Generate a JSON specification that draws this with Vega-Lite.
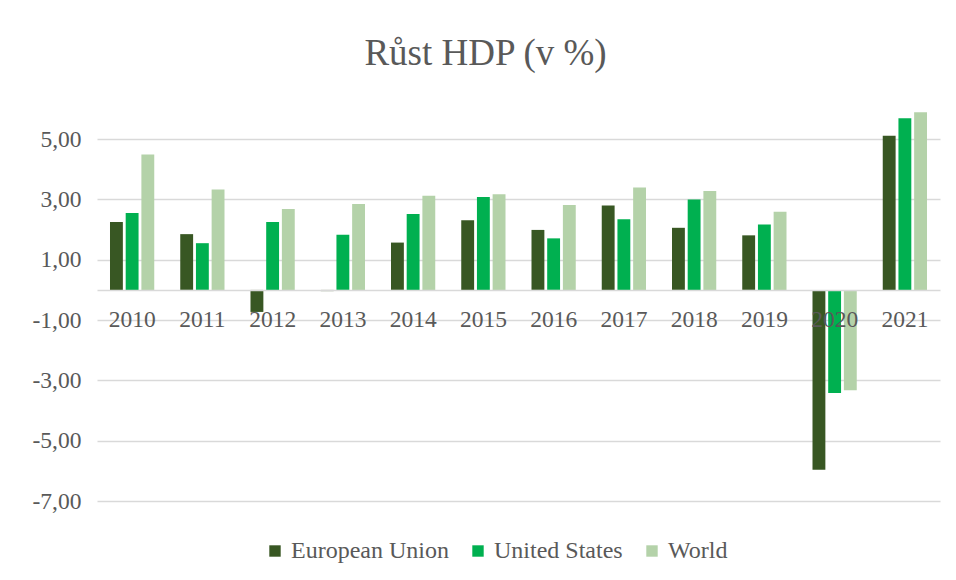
{
  "$schema": "https://vega.github.io/schema/vega-lite/v6.json",
  "width": 843,
  "height": 392,
  "autosize": "none",
  "padding": {"left": 97, "top": 109, "right": 16, "bottom": 79},
  "background": "white",
  "title": {
    "text": "Růst HDP (v %)",
    "font": "Liberation Serif",
    "fontSize": 37,
    "fontWeight": "normal",
    "color": "#595959",
    "anchor": "middle",
    "frame": "group",
    "dx": -33,
    "baseline": "alphabetic",
    "offset": 7
  },
  "data": {
    "values": [
      {"year": "2010", "series": "European Union", "value": 2.25},
      {"year": "2010", "series": "United States", "value": 2.55},
      {"year": "2010", "series": "World", "value": 4.49},
      {"year": "2011", "series": "European Union", "value": 1.85},
      {"year": "2011", "series": "United States", "value": 1.55},
      {"year": "2011", "series": "World", "value": 3.33},
      {"year": "2012", "series": "European Union", "value": -0.73},
      {"year": "2012", "series": "United States", "value": 2.25},
      {"year": "2012", "series": "World", "value": 2.68},
      {"year": "2013", "series": "European Union", "value": -0.04},
      {"year": "2013", "series": "United States", "value": 1.83},
      {"year": "2013", "series": "World", "value": 2.85},
      {"year": "2014", "series": "European Union", "value": 1.57},
      {"year": "2014", "series": "United States", "value": 2.52},
      {"year": "2014", "series": "World", "value": 3.12},
      {"year": "2015", "series": "European Union", "value": 2.31},
      {"year": "2015", "series": "United States", "value": 3.08},
      {"year": "2015", "series": "World", "value": 3.17},
      {"year": "2016", "series": "European Union", "value": 1.99},
      {"year": "2016", "series": "United States", "value": 1.71},
      {"year": "2016", "series": "World", "value": 2.82},
      {"year": "2017", "series": "European Union", "value": 2.8},
      {"year": "2017", "series": "United States", "value": 2.34},
      {"year": "2017", "series": "World", "value": 3.4},
      {"year": "2018", "series": "European Union", "value": 2.06},
      {"year": "2018", "series": "United States", "value": 3.0},
      {"year": "2018", "series": "World", "value": 3.28},
      {"year": "2019", "series": "European Union", "value": 1.81},
      {"year": "2019", "series": "United States", "value": 2.17},
      {"year": "2019", "series": "World", "value": 2.59},
      {"year": "2020", "series": "European Union", "value": -5.96},
      {"year": "2020", "series": "United States", "value": -3.42},
      {"year": "2020", "series": "World", "value": -3.33},
      {"year": "2021", "series": "European Union", "value": 5.11},
      {"year": "2021", "series": "United States", "value": 5.69},
      {"year": "2021", "series": "World", "value": 5.89}
    ]
  },
  "mark": {"type": "bar"},
  "encoding": {
    "x": {
      "field": "year",
      "type": "nominal",
      "scale": {"paddingInner": 0.37, "paddingOuter": 0.185},
      "axis": {
        "title": null,
        "orient": "bottom",
        "offset": -211.1,
        "labelAngle": 0,
        "labelFont": "Liberation Serif",
        "labelFontSize": 23.5,
        "labelColor": "#595959",
        "labelPadding": 18,
        "ticks": false,
        "domain": true,
        "domainColor": "#d9d9d9",
        "domainWidth": 1.5,
        "zindex": 1
      }
    },
    "xOffset": {
      "field": "series",
      "type": "nominal",
      "sort": ["European Union", "United States", "World"],
      "scale": {"paddingInner": 0.18}
    },
    "y": {
      "field": "value",
      "type": "quantitative",
      "scale": {"domain": [-7, 6], "nice": false, "zero": false},
      "axis": {
        "title": null,
        "values": [-7, -5, -3, -1, 1, 3, 5],
        "labelExpr": "(datum.value < 0 ? '-' : '') + replace(format(abs(datum.value), '.2f'), '.', ',')",
        "labelFont": "Liberation Serif",
        "labelFontSize": 23.5,
        "labelColor": "#595959",
        "labelPadding": 16,
        "ticks": false,
        "domain": false,
        "grid": true,
        "gridColor": "#d9d9d9",
        "gridWidth": 1.5
      }
    },
    "color": {
      "field": "series",
      "type": "nominal",
      "scale": {
        "domain": ["European Union", "United States", "World"],
        "range": ["#385723", "#00B050", "#B4D2A9"]
      },
      "legend": {
        "title": null,
        "orient": "none",
        "direction": "horizontal",
        "legendX": 166,
        "legendY": 430,
        "symbolType": "square",
        "symbolSize": 130,
        "symbolStrokeWidth": 0,
        "labelFont": "Liberation Serif",
        "labelFontSize": 24,
        "labelColor": "#595959",
        "labelOffset": 4,
        "columnPadding": 17,
        "labelLimit": 300
      }
    }
  },
  "config": {
    "font": "Liberation Serif",
    "view": {"stroke": null}
  }
}
